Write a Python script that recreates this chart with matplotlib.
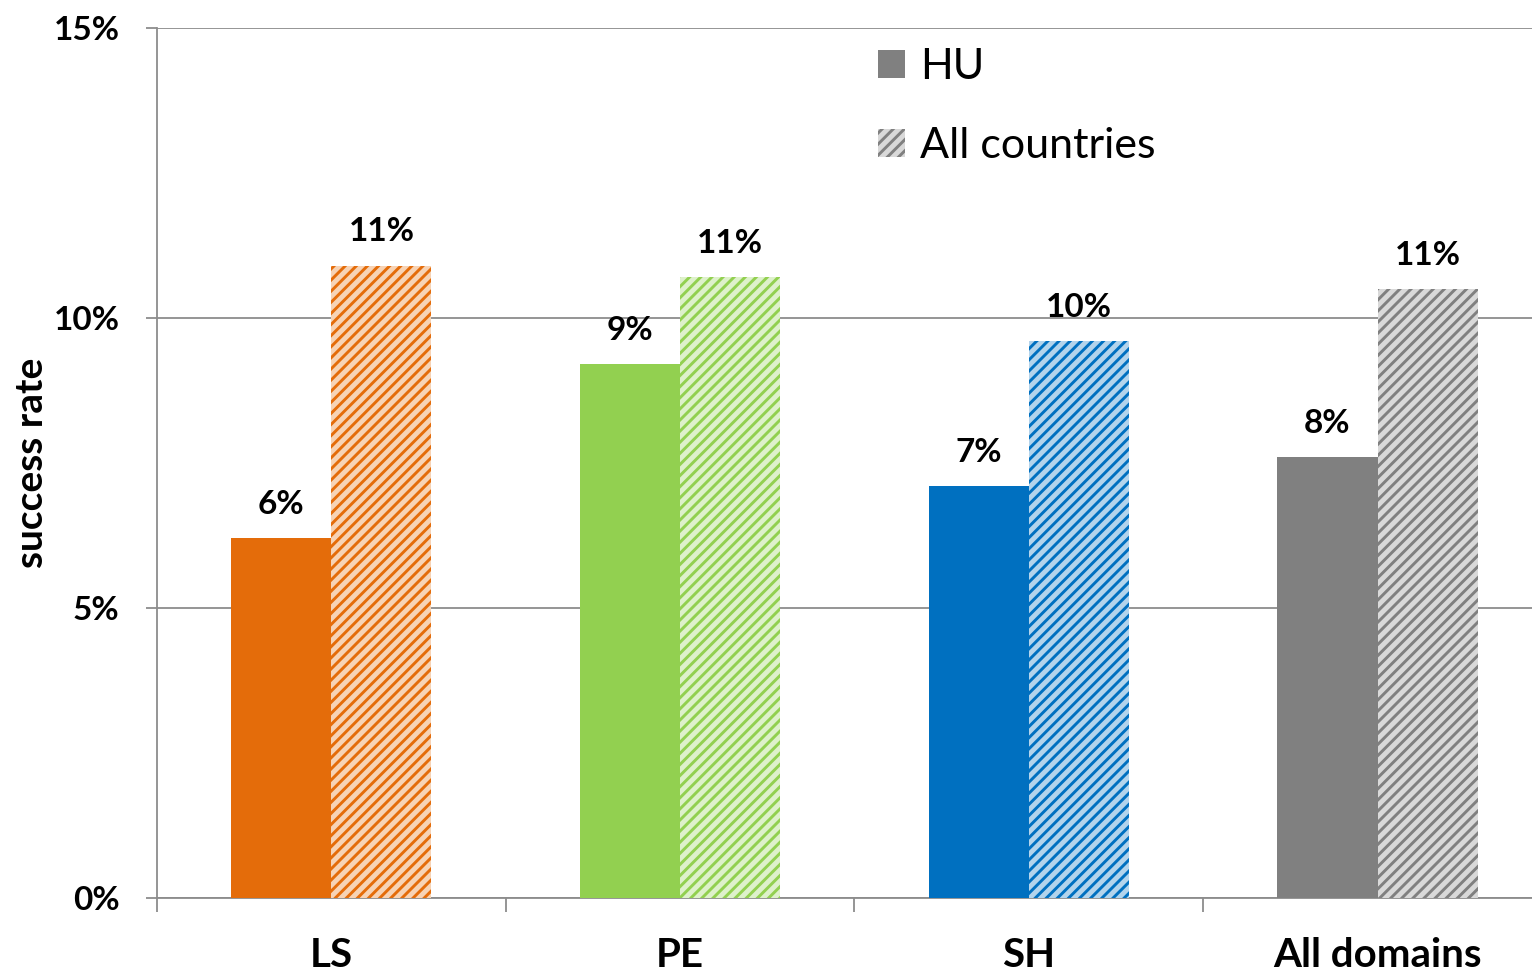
import numpy as np
import matplotlib.pyplot as plt
from matplotlib.colors import to_rgb
from matplotlib.patches import Patch

# Data

categories = ['LS', 'PE', 'SH', 'All domains']
hu = [6.2, 9.2, 7.1, 7.6]
all_countries = [10.9, 10.7, 9.6, 10.5]
hu_labels = ['6%', '9%', '7%', '8%']
all_labels = ['11%', '11%', '10%', '11%']
colors = ['#E46C0A', '#92D050', '#0070C0', '#808080']

plt.rcParams['font.family'] = ['Lato', 'DejaVu Sans']
plt.rcParams['hatch.linewidth'] = 2.1

def tint(c, f=0.7):
    r = np.array(to_rgb(c))
    return tuple(r + (1 - r) * f)

fig = plt.figure(figsize=(15.32, 9.74), dpi=100)
ax = fig.add_axes([157/1532, 1 - 898/974, 1 - 157/1532, (898 - 28)/974])

x = np.arange(len(categories))
w = 0.287

for i in range(len(categories)):
    ax.bar(x[i] - w/2, hu[i], w, color=colors[i], linewidth=0, zorder=3)
    ax.bar(x[i] + w/2, all_countries[i], w, facecolor=tint(colors[i]),
           edgecolor=colors[i], hatch='///', linewidth=0, zorder=3)
    ax.annotate(hu_labels[i], (x[i] - w/2, hu[i]), xytext=(0, 14),
                textcoords='offset points', ha='center', va='bottom',
                fontsize=24, fontweight='bold')
    ax.annotate(all_labels[i], (x[i] + w/2, all_countries[i]), xytext=(0, 14),
                textcoords='offset points', ha='center', va='bottom',
                fontsize=24, fontweight='bold')

ax.set_xlim(-0.5, 3.443)
ax.set_ylim(0, 15)
ax.set_yticks([0, 5, 10, 15])
ax.set_yticklabels(['0%', '5%', '10%', '15%'], fontsize=24, fontweight='bold')
ax.yaxis.grid(True, color='#8c8c8c', linewidth=1.3, zorder=0)
ax.set_axisbelow(True)

ax.set_xticks(x)
ax.set_xticklabels(categories, fontsize=29, fontweight='bold')
ax.set_xticks(np.arange(-0.5, 3.0, 1), minor=True)
ax.tick_params(axis='x', which='major', length=0, pad=28)
ax.tick_params(axis='x', which='minor', length=10, width=1.3, color='#8c8c8c')
ax.tick_params(axis='y', length=8, width=1.3, color='#8c8c8c', pad=19)

for s in ['top', 'right']:
    ax.spines[s].set_visible(False)
for s in ['left', 'bottom']:
    ax.spines[s].set_color('#8c8c8c')
    ax.spines[s].set_linewidth(1.3)

ax.set_ylabel('success rate', fontsize=28, fontweight='bold', labelpad=3)

handles = [Patch(facecolor='#808080', linewidth=0),
           Patch(facecolor=tint('#808080'), edgecolor='#808080', hatch='///', linewidth=0)]
fig.legend(handles, ['HU', 'All countries'], loc='upper left',
           bbox_to_anchor=(878/1532, 1 - 48/974), frameon=False, fontsize=31,
           handlelength=0.62, handleheight=0.62, handletextpad=0.35,
           labelspacing=0.95, borderpad=0, borderaxespad=0)

fig.savefig('out.png', dpi=100)
